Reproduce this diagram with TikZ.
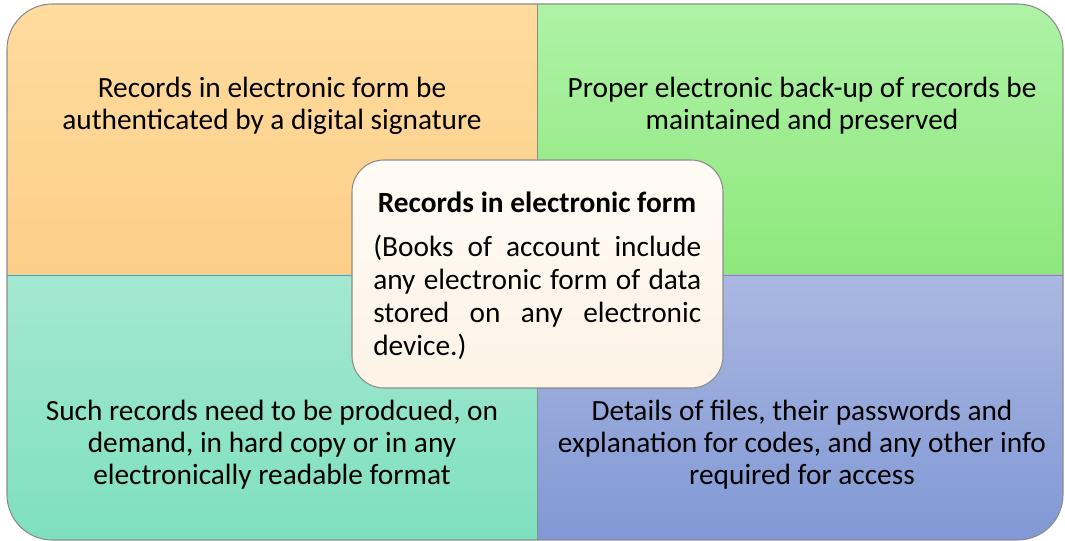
\documentclass[tikz,border=0pt]{standalone}
\usepackage{fontspec}
\setmainfont{Carlito}
\begin{document}
\begin{tikzpicture}[x=0.75pt,y=-0.75pt,
  qtext/.style={anchor=base,align=center,font=\fontsize{22}{24}\selectfont,inner sep=0pt},
  ctitle/.style={anchor=base,font=\fontsize{22}{24.75}\selectfont\bfseries,inner sep=0pt},
  cbody/.style={anchor=base west,font=\fontsize{22}{24.75}\selectfont,inner sep=0pt},
  border/.style={draw=black!45,line width=0.8pt}]
\useasboundingbox (0,0) rectangle (1065,541);
\definecolor{tlT}{HTML}{FFDB9E}\definecolor{tlB}{HTML}{FCCF88}
\definecolor{trT}{HTML}{AEF2A6}\definecolor{trB}{HTML}{8EE87C}
\definecolor{blT}{HTML}{A4E8D2}\definecolor{blB}{HTML}{7EE0BE}
\definecolor{brT}{HTML}{AAB8E2}\definecolor{brB}{HTML}{8098D4}
\definecolor{cT}{HTML}{FFFBF4}\definecolor{cB}{HTML}{FDF3E6}
\begin{scope}
\clip[rounded corners=34pt] (7,4) rectangle (1063,540);
\shade[top color=tlT,bottom color=tlB] (7,4) rectangle (537,275);
\shade[top color=trT,bottom color=trB] (537,4) rectangle (1063,275);
\shade[top color=blT,bottom color=blB] (7,275) rectangle (537,540);
\shade[top color=brT,bottom color=brB] (537,275) rectangle (1063,540);
\end{scope}
\draw[border,rounded corners=34pt] (7,4) rectangle (1063,540);
\draw[border,line width=0.5pt] (537,4) -- (537,540);
\draw[border,line width=0.5pt] (7,275) -- (1063,275);
\node[qtext] (tl) at (272,130) {Records in electronic form be\\authenticated by a digital signature};
\node[qtext] (tr) at (802,130) {Proper electronic back-up of records be\\maintained and preserved};
\node[qtext] (bl) at (272,485) {Such records need to be prodcued, on\\demand, in hard copy or in any\\electronically readable format};
\node[qtext] (br) at (802,485) {Details of files, their passwords and\\explanation for codes, and any other info\\required for access};
\shade[top color=cT,bottom color=cB,rounded corners=24pt] (352,160) rectangle (723,388);
\draw[border,rounded corners=24pt] (352,160) rectangle (723,388);
\node[ctitle] (ct) at (537,213) {Records in electronic form};
\node[cbody] (cb) at (373,257) {\parbox[t]{246pt}{\fontsize{22}{24.75}\selectfont\hyphenpenalty=10000\exhyphenpenalty=10000\tolerance=10000(Books of account include any electronic form of data stored on any electronic device.)}};
\end{tikzpicture}
\end{document}
